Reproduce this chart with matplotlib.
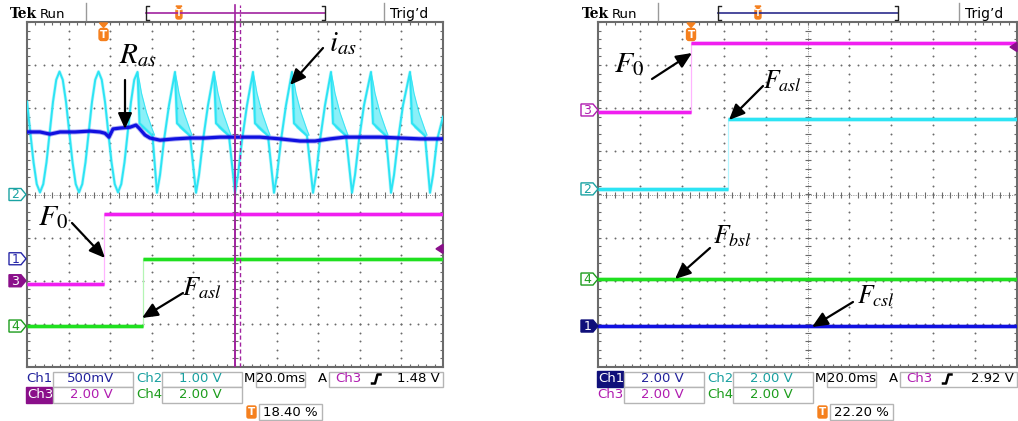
import numpy as np
import matplotlib
matplotlib.use("Agg")
import matplotlib.pyplot as plt
from matplotlib.patches import Rectangle, Polygon, FancyBboxPatch

plt.rcParams["font.family"] = ["DejaVu Sans"]
plt.rcParams["mathtext.fontset"] = "stix"

# ------------------------------------------------------------------ data
# Time in ms (M 20.0 ms/div, 10 div on screen), levels in screen divisions (centre = 0)
SPAN_MS = 200.0

# Left capture: Ch2 phase current i_as
ias_t = [0.0, 1.56, 3.13, 4.69, 6.25, 7.81, 9.38, 10.94, 12.5, 14.06, 15.63, 17.19,
         18.75, 20.31, 21.88, 23.44, 25.0, 26.56, 28.13, 29.69, 31.25, 32.81, 34.38,
         35.94, 37.5, 39.06, 40.63, 42.19, 43.75, 45.31, 46.88, 48.44, 50.0, 51.56, 53.13,
         54.09, 60.34, 62.5, 63.94, 65.87, 68.27,
         71.15, 72.11, 78.36, 81.25, 82.69, 84.62, 87.02,
         89.9, 90.86, 97.11, 100.0, 101.44, 103.37, 105.77,
         108.65, 109.61, 115.86, 118.75, 120.19, 122.12, 124.52,
         127.4, 128.36, 134.61, 137.5, 138.94, 140.87, 143.27,
         146.15, 147.11, 153.36, 156.25, 157.69, 159.62, 162.02,
         165.38, 166.34, 172.59, 175.0, 176.44, 178.37, 180.77,
         184.13, 185.09, 191.34, 193.75, 195.19, 197.12, 200.0]
ias_v = [2.15, 1.45, 0.75, 0.24, 0.05, 0.24, 0.75, 1.45, 2.15, 2.66, 2.85, 2.66,
         2.15, 1.45, 0.75, 0.24, 0.05, 0.24, 0.75, 1.45, 2.15, 2.66, 2.85,
         2.66, 2.15, 1.45, 0.75, 0.24, 0.05, 0.24, 0.75, 1.45, 2.15, 2.66, 2.84,
         1.65, 1.36, 0.04, 0.45, 1.26, 2.07,
         2.84, 1.65, 1.36, 0.04, 0.45, 1.26, 2.07,
         2.84, 1.65, 1.36, 0.04, 0.45, 1.26, 2.07,
         2.84, 1.65, 1.36, 0.04, 0.45, 1.26, 2.07,
         2.84, 1.65, 1.36, 0.04, 0.45, 1.26, 2.07,
         2.84, 1.65, 1.36, 0.04, 0.45, 1.26, 2.07,
         2.84, 1.65, 1.36, 0.04, 0.45, 1.26, 2.07,
         2.84, 1.65, 1.36, 0.04, 0.45, 1.26, 1.80]

# Chopping bursts on the falling side of each post-fault peak
burst_peaks = [53.13, 71.15, 89.9, 108.65, 127.4, 146.15, 165.38, 184.13]
burst_dt = [0.0, 0.96, 1.92, 4.33, 7.21, 8.17]
burst_hi = [2.84, 2.62, 2.35, 1.90, 1.50, 1.38]
burst_lo = [2.84, 1.65, 1.55, 1.45, 1.36, 1.38]

# Ch1 fault residual R_as
ras_t = [0.0, 6.25, 11.06, 15.87, 23.08, 30.29, 35.1, 37.5, 39.42, 41.35, 44.71, 49.52,
         52.4, 53.85, 56.73, 59.13, 63.94, 71.15, 78.37, 85.58, 92.79, 102.4, 112.02,
         121.63, 131.25, 138.46, 145.67, 152.88, 160.1, 169.71, 179.33, 188.94, 200.0]
ras_v = [1.45, 1.45, 1.40, 1.45, 1.45, 1.47, 1.45, 1.42, 1.33, 1.52, 1.54, 1.56,
         1.61, 1.54, 1.38, 1.31, 1.26, 1.29, 1.31, 1.31, 1.33, 1.33, 1.33,
         1.29, 1.24, 1.24, 1.29, 1.33, 1.33, 1.33, 1.31, 1.29, 1.29]

# Step flags: [edge time ms, low level, high level]
L_F0 = [37.02, -2.08, -0.45]
L_FASL = [55.77, -3.05, -1.49]
R_F0 = [44.39, 1.91, 3.51]
R_FASL = [62.05, 0.13, 1.75]
R_FBSL = -1.96
R_FCSL = -3.05

# Channel ground markers (div)
L_GND = {"2": 0.0, "1": -1.49, "3": -2.0, "4": -3.05}
R_GND = {"3": 1.96, "2": 0.13, "4": -1.96, "1": -3.05}

# Trigger settings
L_TRIG_PCT, L_TRIG_V = 18.40, 1.48
R_TRIG_PCT, R_TRIG_V = 22.20, 2.92
CH3_VDIV = 2.00
L_CURSORS = [100.0, 102.4]

# Readout texts
L_SCALES = ["500mV", "1.00 V", "2.00 V", "2.00 V"]
R_SCALES = ["2.00 V", "2.00 V", "2.00 V", "2.00 V"]
TIMEBASE = "20.0ms"

# ------------------------------------------------------------------ colours
C1, C2, C3, C4 = "#1010e0", "#2ce4f4", "#f01ef0", "#1fe01f"
C1T, C2T, C3T, C4T = "#22229c", "#19a0a0", "#b01cb0", "#1c9c1c"
C3FILL, C1FILL = "#8a0f8a", "#10107a"
ORANGE = "#f5801e"
GRID = "#6a6a6a"

W, H = 1018, 421
fig = plt.figure(figsize=(W / 100, H / 100), dpi=100)
axL = fig.add_axes([27 / W, (H - 367) / H, 416 / W, 345 / H])
axR = fig.add_axes([598 / W, (H - 367) / H, 419 / W, 345 / H])
ov = fig.add_axes([0, 0, 1, 1], zorder=10)
ov.set_xlim(0, W)
ov.set_ylim(H, 0)
ov.axis("off")
ov.patch.set_alpha(0)


def graticule(ax):
    ax.set_xlim(0, SPAN_MS)
    ax.set_ylim(-4, 4)
    ax.set_xticks([])
    ax.set_yticks([])
    for sp in ax.spines.values():
        sp.set_color("#6b6b6b")
        sp.set_linewidth(1.5)
    fx = np.arange(0, SPAN_MS + 0.01, SPAN_MS / 50)
    fy = np.arange(-4, 4.001, 0.2)
    dots = dict(ls="none", marker="o", ms=1.4, mew=0, color=GRID, zorder=1)
    for k in range(1, 10):
        if k != 5:
            ax.plot(np.full(fy.size, k * 20.0), fy, **dots)
    for k in range(-3, 4):
        if k != 0:
            ax.plot(fx, np.full(fx.size, float(k)), **dots)
    ax.axvline(100, color="#8c8c8c", lw=0.7, ls=(0, (1, 1.3)), zorder=1)
    ax.axhline(0, color="#8c8c8c", lw=0.7, ls=(0, (1, 1.3)), zorder=1)
    tick = dict(ls="none", mew=0.8, color=GRID, zorder=1)
    ax.plot(fx, np.zeros(fx.size), marker="|", ms=4.5, **tick)
    ax.plot(np.full(fy.size, 100.0), fy, marker="_", ms=4.5, **tick)
    ax.plot(fx, np.full(fx.size, 4.0), marker="|", ms=5, **tick)
    ax.plot(fx, np.full(fx.size, -4.0), marker="|", ms=5, **tick)
    ax.plot(np.zeros(fy.size), fy, marker="_", ms=5, **tick)
    ax.plot(np.full(fy.size, SPAN_MS), fy, marker="_", ms=5, **tick)


def step_trace(ax, step, color, edge):
    t = [0.0, step[0], step[0], SPAN_MS]
    v = [step[1], step[1], step[2], step[2]]
    ax.plot(t[1:3], v[1:3], color=edge, lw=0.9, zorder=4)
    for seg in (slice(0, 2), slice(2, 4)):
        ax.plot(t[seg], v[seg], color=color, lw=3.4, alpha=0.35, zorder=4,
                solid_capstyle="butt")
        ax.plot(t[seg], v[seg], color=color, lw=2.2, zorder=5, solid_capstyle="butt")


def flat_trace(ax, level, color):
    ax.plot([0, SPAN_MS], [level, level], color=color, lw=3.4, alpha=0.35, zorder=4)
    ax.plot([0, SPAN_MS], [level, level], color=color, lw=2.2, zorder=5)


for ax in (axL, axR):
    graticule(ax)

# ---- left traces
for p in burst_peaks:
    ax_t = [p + d for d in burst_dt]
    axL.fill_between(ax_t, burst_lo, burst_hi, color=C2, alpha=0.55, lw=0, zorder=3)
    axL.plot(ax_t, burst_hi, color=C2, lw=0.8, alpha=0.85, zorder=3)
axL.plot(ias_t, ias_v, color=C2, lw=2.4, alpha=0.3, zorder=3)
axL.plot(ias_t, ias_v, color=C2, lw=1.4, zorder=3)
axL.plot(ras_t, ras_v, color=C1, lw=3.6, alpha=0.35, zorder=6)
axL.plot(ras_t, ras_v, color=C1, lw=2.3, zorder=6)
step_trace(axL, L_F0, C3, "#ffb4ff")
step_trace(axL, L_FASL, C4, "#b4f5b4")
axL.axvline(L_CURSORS[0], color="#a1239f", lw=1.4, zorder=7)
axL.axvline(L_CURSORS[1], color="#a1239f", lw=1.0, ls=(0, (3, 2)), zorder=7)

# ---- right traces
step_trace(axR, R_F0, C3, "#ffb4ff")
step_trace(axR, R_FASL, C2, "#b4f5ff")
flat_trace(axR, R_FBSL, C4)
flat_trace(axR, R_FCSL, C1)


# ------------------------------------------------------------------ scope furniture
def screen_y(ax, level):
    return ov.transData.inverted().transform(ax.transData.transform((0, level)))[1]


def ground_marker(ax, x0, level, label, color, filled):
    yc = screen_y(ax, level)
    pts = [(x0, yc - 6), (x0 + 12, yc - 6), (x0 + 17, yc), (x0 + 12, yc + 6), (x0, yc + 6)]
    ov.add_patch(Polygon(pts, closed=True, fc=color if filled else "white",
                         ec=color, lw=1.0))
    ov.text(x0 + 6.5, yc + 0.5, label, ha="center", va="center", fontsize=9,
            color="white" if filled else color)


def trig_level_marker(ax, x_edge, level):
    yc = screen_y(ax, level)
    ov.add_patch(Polygon([(x_edge, yc - 4.5), (x_edge, yc + 4.5), (x_edge - 7, yc)],
                         closed=True, fc=C3FILL, ec=C3FILL))


def trig_pos_marker(ax, pct):
    x = ov.transData.inverted().transform(ax.transData.transform((SPAN_MS * pct / 100, 0)))[0]
    ov.add_patch(Polygon([(x - 4, 23), (x + 4, 23), (x, 27.5)], closed=True, fc=ORANGE, ec=ORANGE))
    ov.add_patch(FancyBboxPatch((x - 4.5, 28.5), 9, 12, boxstyle="round,pad=0,rounding_size=2.5",
                                fc=ORANGE, ec=ORANGE))
    ov.text(x, 35, "T", ha="center", va="center", color="white", fontsize=7.5, fontweight="bold")


def header(x0, sep1, b0, b1, sep2, pct, bracket_color, cursor=False):
    ov.text(x0, 18.5, "Tek", fontsize=10, fontweight="bold", ha="left", va="baseline",
            family=["DejaVu Serif"])
    ov.text(x0 + 30, 18, "Run", fontsize=9.5, ha="left", va="baseline")
    for sx in (sep1, sep2):
        ov.plot([sx, sx], [3, 20], color="#9a9a9a", lw=1.0)
    ov.plot([b0, b1], [13, 13], color=bracket_color, lw=1.2)
    for bx, d in ((b0, 3), (b1, -3)):
        ov.plot([bx + d, bx, bx, bx + d], [6, 6, 20, 20], color="#222222", lw=1.0)
    tx = b0 + (b1 - b0) * pct / 100
    ov.add_patch(Polygon([(tx - 3, 6), (tx + 3, 6), (tx, 8.5)], closed=True, fc=ORANGE, ec=ORANGE))
    ov.add_patch(FancyBboxPatch((tx - 3, 9), 6, 10, boxstyle="round,pad=0,rounding_size=2",
                                fc=ORANGE, ec=ORANGE))
    ov.text(tx, 14, "T", ha="center", va="center", color="white", fontsize=6, fontweight="bold")
    if cursor:
        cx = (b0 + b1) / 2
        ov.plot([cx, cx], [5, 21], color="#a1239f", lw=1.2)
        ov.plot([cx + 5, cx + 5], [5, 21], color="#a1239f", lw=0.9, ls=(0, (2, 1.5)))
    ov.text(sep2 + 6, 18, "Trig\u2019d", fontsize=10, ha="left", va="baseline")


def box(x0, y0, x1, y1):
    ov.add_patch(Rectangle((x0, y0), x1 - x0, y1 - y0, fc="white", ec="#b5b5b5", lw=1.0))


def label(x, y, s, color, ha="left", bg=None, size=9.5):
    if bg is not None:
        ov.add_patch(Rectangle((x - 1, y - 8), 26, 16, fc=bg, ec=bg))
    ov.text(x, y, s, color=color, ha=ha, va="center", fontsize=size)


def edge_icon(x, y):
    ov.plot([x, x + 3, x + 5.5, x + 8.5], [y + 4.5, y + 4.5, y - 4.5, y - 4.5], color="black", lw=1.8)


def footer(x0, scales, hi_ch, trig_v, trig_pct, right_end):
    r1, r2, r3 = 379, 395, 412
    ch_txt = {1: C1T, 2: C2T, 3: C3T, 4: C4T}
    fills = {1: C1FILL, 3: C3FILL}
    for ch, row in ((1, r1), (3, r2)):
        if ch == hi_ch:
            label(x0 + 1, row, "Ch%d" % ch, "white", bg=fills[ch])
        else:
            label(x0, row, "Ch%d" % ch, ch_txt[ch])
    box(x0 + 27, r1 - 7, x0 + 107, r1 + 8)
    box(x0 + 27, r2 - 8, x0 + 107, r2 + 8)
    label(x0 + 65, r1, scales[0], ch_txt[1], ha="center")
    label(x0 + 65, r2, scales[2], ch_txt[3], ha="center")
    label(x0 + 110, r1, "Ch2", ch_txt[2])
    label(x0 + 110, r2, "Ch4", ch_txt[4])
    box(x0 + 136, r1 - 7, x0 + 216, r1 + 8)
    box(x0 + 136, r2 - 8, x0 + 216, r2 + 8)
    label(x0 + 174, r1, scales[1], ch_txt[2], ha="center")
    label(x0 + 174, r2, scales[3], ch_txt[4], ha="center")
    label(x0 + 218, r1, "M", "black")
    box(x0 + 230, r1 - 7, x0 + 279, r1 + 8)
    label(x0 + 255, r1, TIMEBASE, "black", ha="center")
    label(x0 + 292, r1, "A", "black")
    box(x0 + 303, r1 - 7, right_end, r1 + 8)
    label(x0 + 309, r1, "Ch3", ch_txt[3])
    edge_icon(x0 + 346, r1)
    label(right_end - 3, r1, "%.2f V" % trig_v, "black", ha="right")
    ov.add_patch(FancyBboxPatch((x0 + 221, r3 - 6), 9, 12, boxstyle="round,pad=0,rounding_size=1.5",
                                fc=ORANGE, ec=ORANGE))
    ov.text(x0 + 225.5, r3, "T", ha="center", va="center", color="white", fontsize=7.5,
            fontweight="bold")
    box(x0 + 233, r3 - 8, x0 + 296, r3 + 8)
    label(x0 + 264, r3, "%.2f %%" % trig_pct, "black", ha="center")


header(10, 86, 146, 325, 384, L_TRIG_PCT, "#a1239f", cursor=True)
header(582, 658, 718, 898, 959, R_TRIG_PCT, "#2c2c8c")
footer(26, L_SCALES, 3, L_TRIG_V, L_TRIG_PCT, 443)
footer(597, R_SCALES, 1, R_TRIG_V, R_TRIG_PCT, 1017)

ch_outline = {"1": "#2828a8", "2": "#1aa3a3", "3": C3T, "4": "#1c9c1c"}
for ch, lvl in L_GND.items():
    ground_marker(axL, 9, lvl, ch, C3FILL if ch == "3" else ch_outline[ch], ch == "3")
for ch, lvl in R_GND.items():
    ground_marker(axR, 581, lvl, ch, C1FILL if ch == "1" else ch_outline[ch], ch == "1")

trig_level_marker(axL, 443, L_GND["3"] + L_TRIG_V / CH3_VDIV)
trig_level_marker(axR, 1017, R_GND["3"] + R_TRIG_V / CH3_VDIV)
trig_pos_marker(axL, L_TRIG_PCT)
trig_pos_marker(axR, R_TRIG_PCT)


# ------------------------------------------------------------------ annotations
def note(x, y, s, size):
    ov.text(x, y, s, fontsize=size, ha="left", va="baseline", color="black")


def arrow(x0, y0, x1, y1):
    ov.annotate("", xy=(x1, y1), xytext=(x0, y0), xycoords="data",
                arrowprops=dict(arrowstyle="-|>,head_length=0.9,head_width=0.4",
                                lw=1.6, color="black", shrinkA=0, shrinkB=0,
                                mutation_scale=10.5))


note(119, 63, r"$R_{as}$", 21)
arrow(125, 80, 125, 129)
note(329, 51, r"$i_{as}$", 21)
arrow(323, 48, 290, 85)
note(38, 225, r"$F_0$", 21.5)
arrow(72, 223, 105, 258)
note(182, 295, r"$F_{asl}$", 19)
arrow(183, 293, 142, 318)

note(614, 72, r"$F_0$", 21.5)
arrow(652, 79, 692, 53)
note(763, 88, r"$F_{asl}$", 18.5)
arrow(763, 86, 729, 120)
note(713, 243, r"$F_{bsl}$", 18.5)
arrow(710, 248, 675, 279)
note(857, 303, r"$F_{csl}$", 18.5)
arrow(853, 302, 812, 327)

fig.savefig("out.png", dpi=100, facecolor="white")
